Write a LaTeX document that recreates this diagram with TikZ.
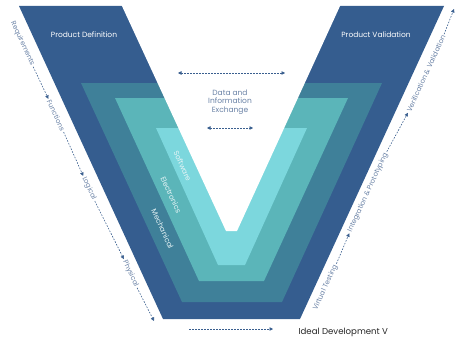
\documentclass[tikz,border=0pt]{standalone}
\usepackage{fontspec}
\setmainfont{Poppins}
\usetikzlibrary{arrows.meta}
\definecolor{vdark}{HTML}{355D8F}
\definecolor{vteal}{HTML}{3F8099}
\definecolor{vmid}{HTML}{5BB5B9}
\definecolor{vlight}{HTML}{7CD7DD}
\definecolor{lbl}{HTML}{6A82A6}
\definecolor{arr}{HTML}{3A5F8F}
\definecolor{inner}{HTML}{E6F4F6}
\tikzset{
  layer/.style={draw=none},
  sidelbl/.style={text=lbl, font=\fontsize{6.9}{8}\selectfont, inner sep=1.5pt},
  innerlbl/.style={text=inner, font=\fontsize{7.3}{8}\selectfont, inner sep=1pt, rotate=-65.3},
  headlbl/.style={text=white, font=\fontsize{7.5}{9}\selectfont},
  dasharrow/.style={draw=arr, line width=0.6pt, dash pattern=on 1.6pt off 1.4pt, -{Triangle[length=3.5pt,width=3.5pt]}},
  dasharrows/.style={draw=arr, line width=0.6pt, dash pattern=on 1.6pt off 1.4pt, {Triangle[length=3.5pt,width=3.5pt]}-{Triangle[length=3.5pt,width=3.5pt]}}
}
\begin{document}
\begin{tikzpicture}[x=1pt,y=-1pt]
\useasboundingbox (0,0) rectangle (457,337);
% layers
\fill[vdark]  (19,6) -- (444,6) -- (300,319) -- (163,319) -- cycle;
\fill[vteal]  (81,83) -- (382,83) -- (282,302) -- (182,302) -- cycle;
\fill[vmid]   (115,98) -- (348,98) -- (264,281) -- (199,281) -- cycle;
\fill[vlight] (156,128) -- (307,128) -- (245,265) -- (218,265) -- cycle;
\fill[white]  (121.5,5) -- (340.5,5) -- (237,231) -- (226,231) -- cycle;
% headings
\node[headlbl] (pdef) at (84,35) {Product Definition};
\node[headlbl] (pval) at (376,35) {Product Validation};
% inner labels
\node[innerlbl] (sw) at (182.5,166) {Software};
\node[innerlbl] (el) at (171,195) {Electronics};
\node[innerlbl] (me) at (162.5,229) {Mechanical};
% center
\node[text=lbl, font=\fontsize{7.5}{8.6}\selectfont, align=center] (dix) at (230,102) {Data and\\Information\\Exchange};
\coordinate (ta) at (178,73);
\coordinate (tb) at (285,73);
\coordinate (la) at (207,128);
\coordinate (lb) at (253,128);
\draw[dasharrows] (ta) -- (tb);
\draw[dasharrows] (la) -- (lb);
% left chain
\node[sidelbl, rotate=-65.3] (req) at (22.5,43.5) {Requirements};
\node[sidelbl, rotate=-65.3] (fun) at (56,115.5) {Functions};
\node[sidelbl, rotate=-65.3] (log) at (89,188.5) {Logical};
\node[sidelbl, rotate=-65.3] (phy) at (130.5,273.5) {Physical};
\coordinate (lend) at (154,321);
\draw[dasharrow] (req.east) -- (fun.west);
\draw[dasharrow] (fun.east) -- (log.west);
\draw[dasharrow] (log.east) -- (phy.west);
\draw[dasharrow] (phy.east) -- (lend);
% right chain
\node[sidelbl, rotate=65.3] (vt) at (325.5,287.5) {Virtual Testing};
\node[sidelbl, rotate=65.3] (ip) at (368,192.5) {Integration \& Prototyping};
\node[sidelbl, rotate=65.3] (vv) at (426,73.5) {Verification \& Validation};
\coordinate (rend) at (454,9);
\draw[dasharrow] (vt.east) -- (ip.west);
\draw[dasharrow] (ip.east) -- (vv.west);
\draw[dasharrow] (vv.east) -- (rend);
% bottom
\node[text=black!85, font=\fontsize{8.6}{10}\selectfont, anchor=west] (title) at (295,332) {Ideal Development V};
\coordinate (ba) at (189,329);
\coordinate (bb) at (273,329);
\draw[dasharrow] (ba) -- (bb);
\end{tikzpicture}
\end{document}
